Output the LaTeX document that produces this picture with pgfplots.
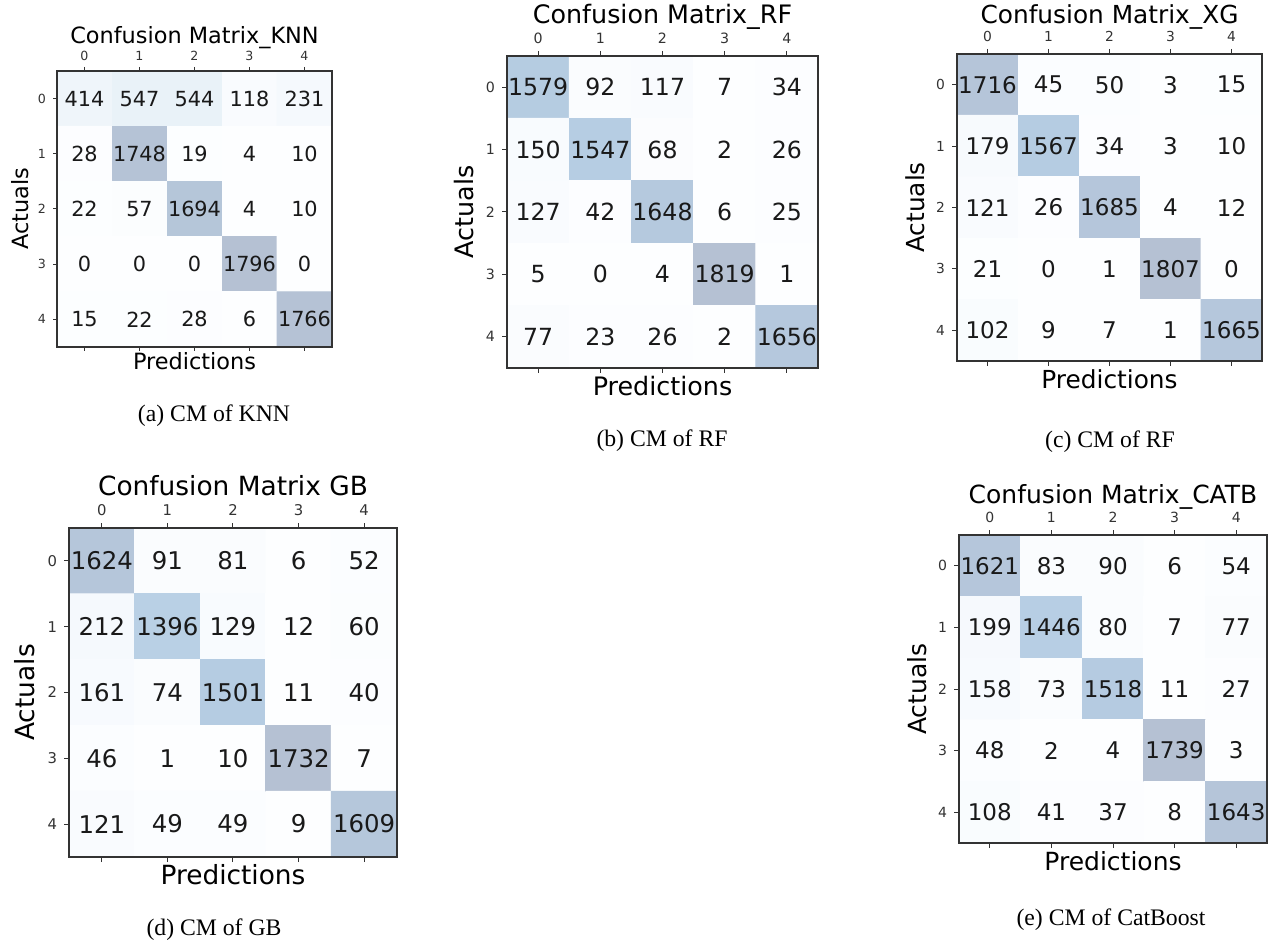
\documentclass[border=0pt]{standalone}
\usepackage{fontspec}
\setmainfont{Liberation Serif}
\newfontfamily\dejavu{DejaVu Sans}
\usepackage{pgfplots}
\pgfplotsset{compat=1.18}
\pgfplotsset{
  colormap={cmblues}{rgb255=(253,254,255) rgb255=(245,249,253) rgb255=(238,244,250) rgb255=(226,239,246) rgb255=(211,231,243) rgb255=(198,222,238) rgb255=(188,212,233) rgb255=(181,203,225) rgb255=(181,193,211)},
  cmstyle/.style n args={9}{
    scale only axis, clip=false, anchor=north west,
    width=#1, height=#2,
    xmin=-0.5, xmax=4.5, ymin=-0.5, ymax=4.5, y dir=reverse,
    enlargelimits=false, axis on top,
    xtick={0,1,2,3,4}, ytick={0,1,2,3,4},
    xtick pos=both, xticklabel pos=right, ytick pos=left,
    tick align=outside, major tick length=#9,
    colormap name=cmblues,
    axis line style={black!80, line width=0.6pt},
    major tick style={black!80, line width=0.5pt},
    tick label style={text=black!80, font=\dejavu\fontsize{#5}{#5}\selectfont},
    /pgf/number format/assume math mode=true,
    title style={font=\dejavu\fontsize{#3}{#3}\selectfont, at={(axis description cs:0.5,#6)}, anchor=base, yshift=-6pt},
    xlabel style={font=\dejavu\fontsize{#3}{#3}\selectfont, at={(axis description cs:0.5,#7)}, anchor=base},
    ylabel style={font=\dejavu\fontsize{#3}{#3}\selectfont, at={(axis description cs:#8,0.5)}, anchor=base, rotate=0},
    xlabel={Predictions}, ylabel={Actuals},
    nodes near coords={\pgfmathprintnumber[fixed,precision=0,1000 sep={}]{\pgfplotspointmeta}},
    nodes near coords align=center,
    every node near coord/.append style={anchor=center, text=black!90, font=\dejavu\fontsize{#4}{#4}\selectfont},
  },
}
\begin{document}
\begin{tikzpicture}
\useasboundingbox (0,0) rectangle (636pt,-472.5pt);

% (a) KNN
\begin{axis}[cmstyle={137.5pt}{138pt}{11.2}{10.4}{6.3}{1.101}{-0.083}{-0.105}{2pt},
  at={(28.5pt,-35.5pt)}, title={Confusion Matrix\_KNN}, xticklabel style={yshift=-0.5pt}]
\addplot[matrix plot*, mesh/cols=5, point meta=explicit] table[meta=c] {
x y c
0 0 414
1 0 547
2 0 544
3 0 118
4 0 231
0 1 28
1 1 1748
2 1 19
3 1 4
4 1 10
0 2 22
1 2 57
2 2 1694
3 2 4
4 2 10
0 3 0
1 3 0
2 3 0
3 3 1796
4 3 0
0 4 15
1 4 22
2 4 28
3 4 6
4 4 1766
};
\end{axis}

% (b) RF
\begin{axis}[cmstyle={155.5pt}{156pt}{12.7}{11.8}{7.1}{1.103}{-0.087}{-0.109}{2.5pt},
  at={(253.5pt,-28pt)}, title={Confusion Matrix\_RF}]
\addplot[matrix plot*, mesh/cols=5, point meta=explicit] table[meta=c] {
x y c
0 0 1579
1 0 92
2 0 117
3 0 7
4 0 34
0 1 150
1 1 1547
2 1 68
3 1 2
4 1 26
0 2 127
1 2 42
2 2 1648
3 2 6
4 2 25
0 3 5
1 3 0
2 3 4
3 3 1819
4 3 1
0 4 77
1 4 23
2 4 26
3 4 2
4 4 1656
};
\end{axis}

% (c) XG
\begin{axis}[cmstyle={152.5pt}{153.5pt}{12.4}{11.5}{6.9}{1.098}{-0.088}{-0.105}{2.5pt},
  at={(478.5pt,-27pt)}, title={Confusion Matrix\_XG}]
\addplot[matrix plot*, mesh/cols=5, point meta=explicit] table[meta=c] {
x y c
0 0 1716
1 0 45
2 0 50
3 0 3
4 0 15
0 1 179
1 1 1567
2 1 34
3 1 3
4 1 10
0 2 121
1 2 26
2 2 1685
3 2 4
4 2 12
0 3 21
1 3 0
2 3 1
3 3 1807
4 3 0
0 4 102
1 4 9
2 4 7
3 4 1
4 4 1665
};
\end{axis}

% (d) GB
\begin{axis}[cmstyle={164pt}{164.5pt}{13.2}{12.2}{7.4}{1.100}{-0.085}{-0.104}{2.5pt},
  at={(34.5pt,-264pt)}, title={Confusion Matrix GB}]
\addplot[matrix plot*, mesh/cols=5, point meta=explicit] table[meta=c] {
x y c
0 0 1624
1 0 91
2 0 81
3 0 6
4 0 52
0 1 212
1 1 1396
2 1 129
3 1 12
4 1 60
0 2 161
1 2 74
2 2 1501
3 2 11
4 2 40
0 3 46
1 3 1
2 3 10
3 3 1732
4 3 7
0 4 121
1 4 49
2 4 49
3 4 9
4 4 1609
};
\end{axis}

% (e) CATB
\begin{axis}[cmstyle={154pt}{154pt}{12.5}{11.5}{7.0}{1.101}{-0.088}{-0.104}{2.5pt},
  at={(479.5pt,-267.5pt)}, title={Confusion Matrix\_CATB}]
\addplot[matrix plot*, mesh/cols=5, point meta=explicit] table[meta=c] {
x y c
0 0 1621
1 0 83
2 0 90
3 0 6
4 0 54
0 1 199
1 1 1446
2 1 80
3 1 7
4 1 77
0 2 158
1 2 73
2 2 1518
3 2 11
4 2 27
0 3 48
1 3 2
2 3 4
3 3 1739
4 3 3
0 4 108
1 4 41
2 4 37
3 4 8
4 4 1643
};
\end{axis}

\begin{scope}[font=\fontsize{11.85}{14}\selectfont]
\node[anchor=center] at (107pt,-208pt) {(a) CM of KNN};
\node[anchor=center] at (331pt,-220.5pt) {(b) CM of RF};
\node[anchor=center] at (555pt,-221pt) {(c) CM of RF};
\node[anchor=center] at (107pt,-465pt) {(d) CM of GB};
\node[anchor=center] at (555.5pt,-460pt) {(e) CM of CatBoost};
\end{scope}
\end{tikzpicture}
\end{document}
